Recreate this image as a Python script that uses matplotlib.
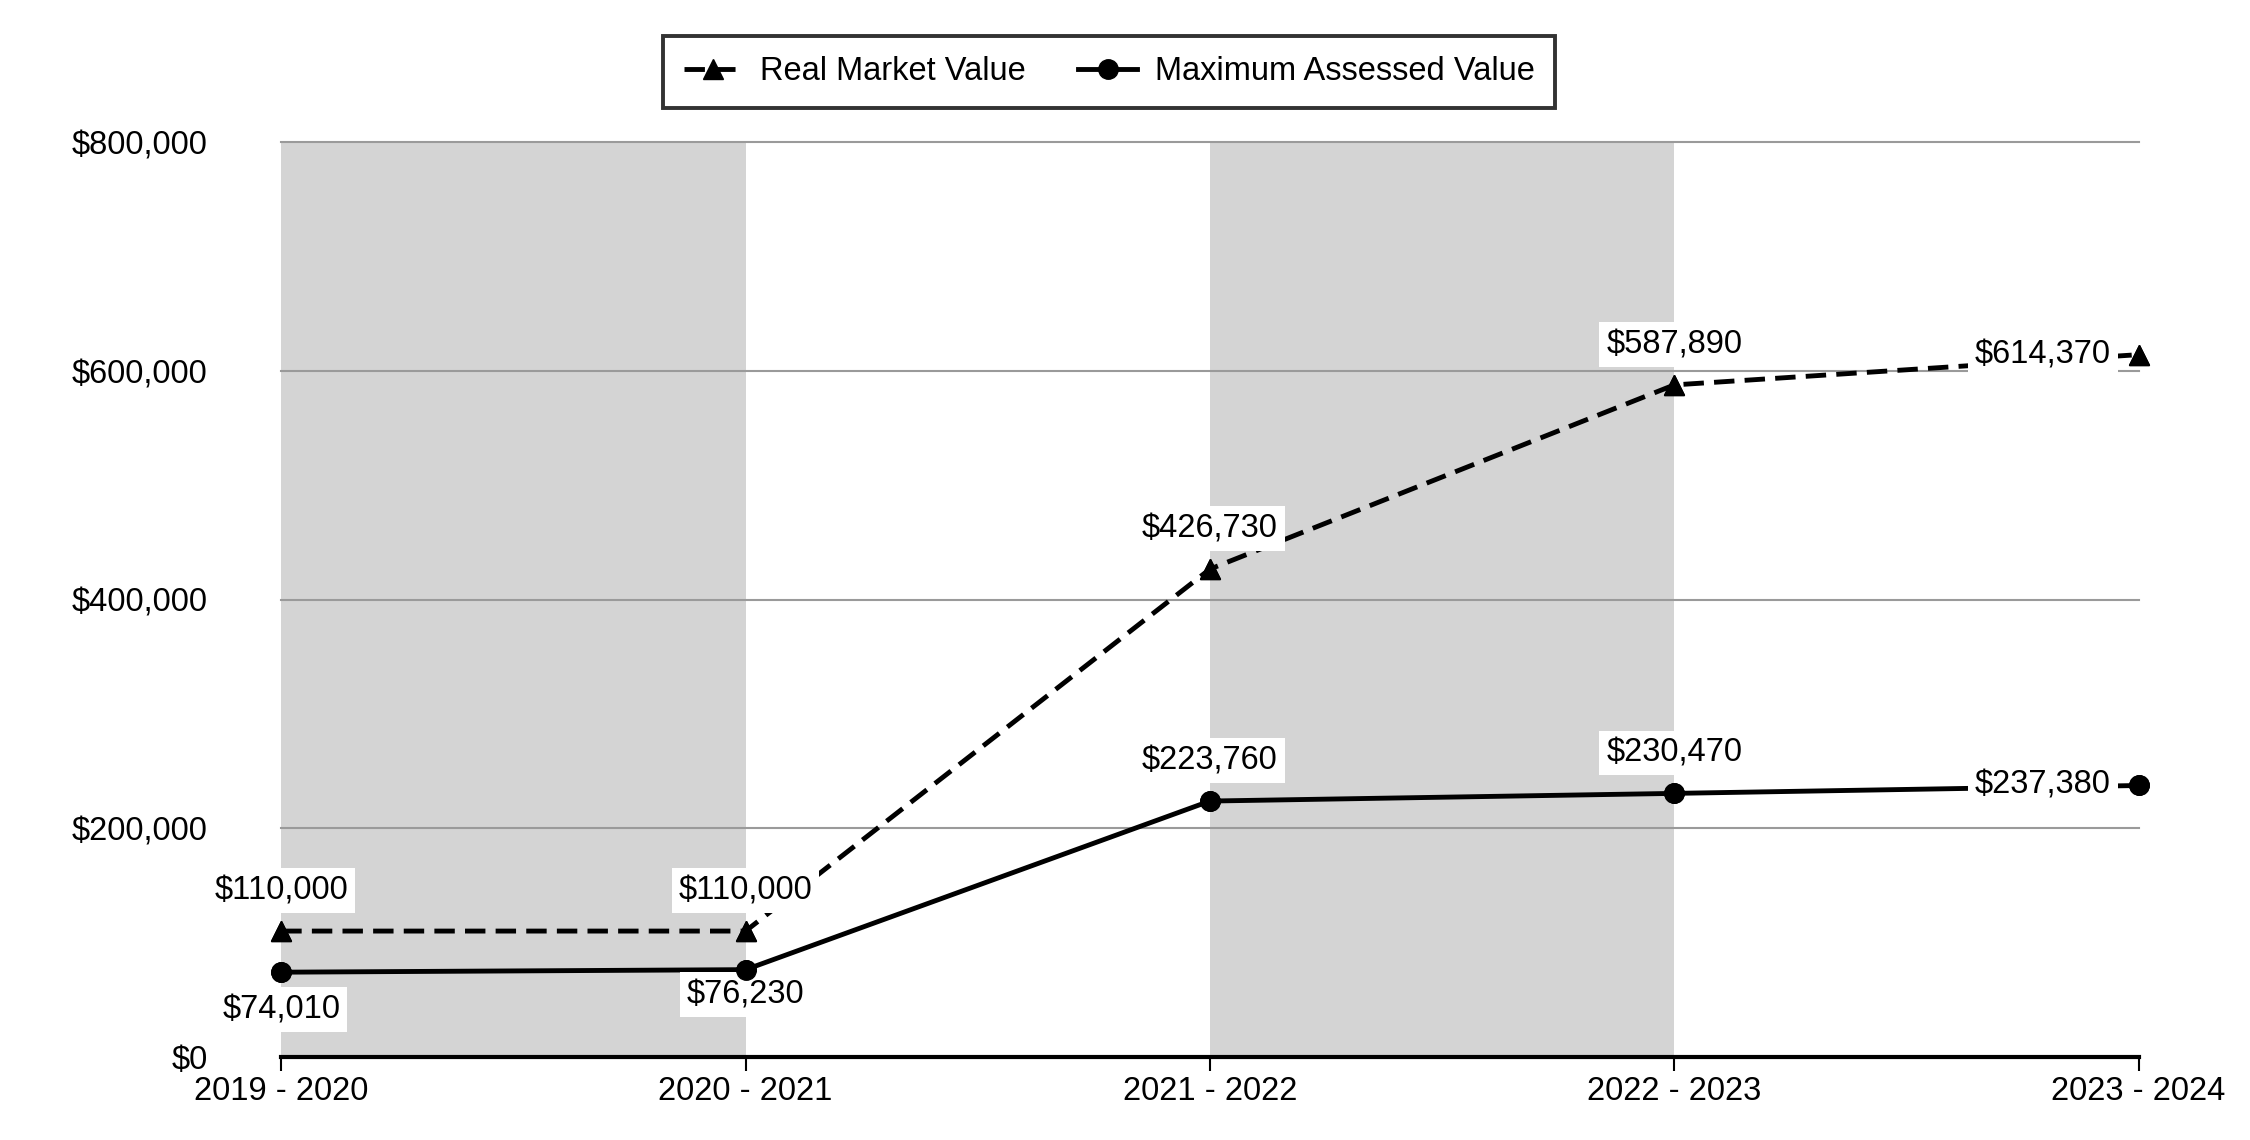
import matplotlib.pyplot as plt
from matplotlib.ticker import FuncFormatter

plt.rcParams['font.family'] = ['Liberation Sans', 'DejaVu Sans']

years = ['2019 - 2020', '2020 - 2021', '2021 - 2022', '2022 - 2023', '2023 - 2024']
real_market = [110000, 110000, 426730, 587890, 614370]
max_assessed = [74010, 76230, 223760, 230470, 237380]
y_ticks = [0, 200000, 400000, 600000, 800000]

FS = 23.5
x = list(range(len(years)))

fig = plt.figure(figsize=(22.5, 11.4), dpi=100)
ax = fig.add_axes([0.125, 0.073, 0.8255, 0.802])

# shaded bands behind alternate years
ax.axvspan(0, 1, color='#d4d4d4', lw=0, zorder=0)
ax.axvspan(2, 3, color='#d4d4d4', lw=0, zorder=0)

ax.plot(x, real_market, color='black', lw=3.5, ls=(0, (4.2, 2.1)),
        marker='^', ms=14, clip_on=False, zorder=3, label='Real Market Value')
ax.plot(x, max_assessed, color='black', lw=3.5, ls='-',
        marker='o', ms=14, clip_on=False, zorder=3, label='Maximum Assessed Value')
# markers again on top of the label boxes
ax.plot(x, real_market, ls='none', marker='^', ms=14, color='black', clip_on=False, zorder=5)
ax.plot(x, max_assessed, ls='none', marker='o', ms=14, color='black', clip_on=False, zorder=5)

box = dict(facecolor='white', edgecolor='none', pad=5)


def label(xi, yi, dx, dy, ha):
    ax.annotate(f'${yi:,.0f}', (xi, yi), xytext=(dx, dy), textcoords='offset points',
                ha=ha, va='center', fontsize=FS, bbox=box, zorder=4,
                annotation_clip=False)


for i, v in enumerate(real_market):
    if i == len(x) - 1:
        label(i, v, -20, 0, 'right')
    else:
        label(i, v, 0, 29, 'center')

ma_dy = [-27, -18, 29, 29]
for i, v in enumerate(max_assessed):
    if i == len(x) - 1:
        label(i, v, -20, 0, 'right')
    else:
        label(i, v, 0, ma_dy[i], 'center')

ax.set_xlim(0, 4)
ax.set_ylim(0, 800000)
ax.set_xticks(x)
ax.set_xticklabels(years, fontsize=FS)
ax.set_yticks(y_ticks)
ax.yaxis.set_major_formatter(FuncFormatter(lambda v, p: f'${v:,.0f}'))
ax.tick_params(axis='y', length=0, pad=53, labelsize=FS)
ax.tick_params(axis='x', length=10, width=1.5, pad=4, color='black')
ax.grid(axis='y', color='#9a9a9a', lw=1.5, zorder=1)
for gl in ax.get_ygridlines():
    gl.set_clip_on(False)
ax.set_axisbelow(True)
for s in ['left', 'right', 'top']:
    ax.spines[s].set_visible(False)
ax.spines['bottom'].set_linewidth(3)
ax.spines['bottom'].set_zorder(3)

leg = fig.legend(loc='center', bbox_to_anchor=(0.493, 0.937), ncol=2, fontsize=FS,
                 frameon=True, fancybox=False, handlelength=1.8, handletextpad=0.55,
                 columnspacing=1.6, borderpad=0.62, borderaxespad=0)
leg.get_frame().set_edgecolor('black')
leg.get_frame().set_linewidth(2.8)

fig.savefig('out.png', dpi=100, facecolor='white')
